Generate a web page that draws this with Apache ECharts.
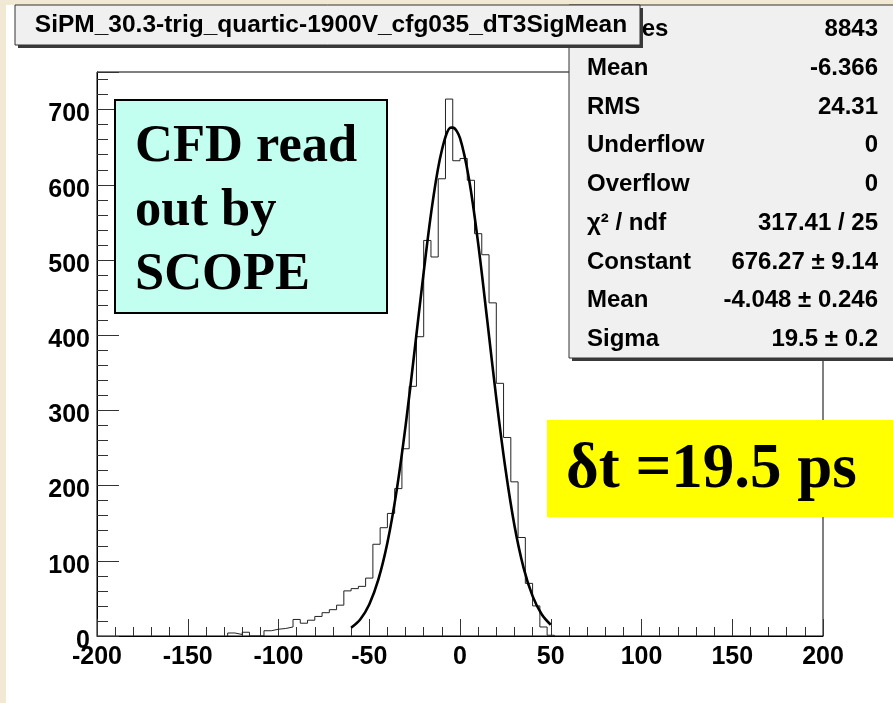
<!DOCTYPE html>
<html><head><meta charset="utf-8">
<script src="https://cdn.jsdelivr.net/npm/echarts@6/dist/echarts.min.js"></script>
<style>html,body{margin:0;padding:0;background:#fff;overflow:hidden}#c{width:893px;height:703px}</style>
</head><body><div id="c"></div>
<script>
// ---- data ----
const titleText = 'SiPM_30.3-trig_quartic-1900V_cfg035_dT3SigMean';
const binStart = -128;   // left edge of first non-empty bin
const binWidth = 4;
const counts = [4,2,5,0,0,7,9,10,12,22,17,21,26,31,35,41,60,63,66,77,122,144,163,196,249,332,398,526,504,608,714,632,635,606,535,507,443,336,264,205,131,70,40,12,1];
const fitX = [-60,-55,-50,-45,-40,-35,-30,-25,-20,-15,-10,-5,-4,0,5,10,15,20,25,30,35,40,45,50];
const fitY = [11,22,42,75,124,192,279,380,484,578,646,676,676,662,607,522,420,316,223,147,91,53,29,15];
const xTicks = [-200,-150,-100,-50,0,50,100,150,200];
const yTicks = [0,100,200,300,400,500,600,700];
const statLabels = ['Entries','Mean','RMS','Underflow','Overflow','\u03c7\u00b2 / ndf','Constant','Mean','Sigma'];
const statValues = ['8843','-6.366','24.31','0','0','317.41 / 25','676.27 \u00b1 9.14','-4.048 \u00b1 0.246','19.5 \u00b1 0.2'];
const noteLines = ['CFD read','out by','SCOPE'];
const resultText = '\u03b4t =19.5 ps';

// ---- build series ----
const histPts = [[binStart, 0]];
counts.forEach((c, i) => histPts.push([binStart + i * binWidth, c]));
const binEnd = binStart + counts.length * binWidth;
histPts.push([binEnd, counts[counts.length - 1]]);
histPts.push([binEnd, 0]);
const fitPts = fitX.map((x, i) => [x, fitY[i]]);

const SANS = '"Liberation Sans", Arial, sans-serif';
const SERIF = '"Liberation Serif", "Times New Roman", serif';
const g = [];
// beige page strips
g.push({type:'rect', z:1, shape:{x:0,y:0,width:6,height:703}, style:{fill:'#f2e9d4'}});
g.push({type:'rect', z:1, shape:{x:0,y:0,width:893,height:5}, style:{fill:'#f2e9d4'}});
// stats box
g.push({type:'rect', z:50, shape:{x:572,y:8,width:330,height:353}, style:{fill:'#3a3a3a'}});
g.push({type:'rect', z:51, shape:{x:569,y:5,width:330,height:353}, style:{fill:'#f0f0f0', stroke:'#333', lineWidth:1}});
statLabels.forEach((t, i) => {
  const y = 29.5 + i * 38.75;
  g.push({type:'text', z:52, x:587, y:y, style:{text:t, font:'bold 24px ' + SANS, fill:'#000', textAlign:'left', textVerticalAlign:'middle', verticalAlign:'middle'}});
  g.push({type:'text', z:52, x:878, y:y, style:{text:statValues[i], font:'bold 24px ' + SANS, fill:'#000', textAlign:'right', textVerticalAlign:'middle', verticalAlign:'middle'}});
});
// title box
g.push({type:'rect', z:60, shape:{x:18,y:8,width:625,height:40}, style:{fill:'#3a3a3a'}});
g.push({type:'rect', z:61, shape:{x:15,y:5,width:625,height:40}, style:{fill:'#f0f0f0', stroke:'#333', lineWidth:1}});
g.push({type:'text', z:62, x:331, y:25.5, style:{text:titleText, font:'bold 24.5px ' + SANS, fill:'#000', textAlign:'center', textVerticalAlign:'middle', verticalAlign:'middle'}});
// cyan note
g.push({type:'rect', z:70, shape:{x:115,y:100,width:272,height:213}, style:{fill:'#c2fff0', stroke:'#000', lineWidth:2}});
noteLines.forEach((t, i) => {
  g.push({type:'text', z:71, x:135, y:147 + i * 64, style:{text:t, font:'bold 52.5px ' + SERIF, fill:'#000', textAlign:'left', textVerticalAlign:'middle', verticalAlign:'middle'}});
});
// yellow result
g.push({type:'rect', z:70, shape:{x:547,y:420,width:346,height:97}, style:{fill:'#ffff00'}});
g.push({type:'text', z:71, x:566, y:471, style:{text:resultText, font:'bold 63px ' + SERIF, fill:'#000', textAlign:'left', textVerticalAlign:'middle', verticalAlign:'middle'}});

const labelStyle = {color:'#000', fontFamily:SANS, fontWeight:'bold', fontSize:25};
const option = {
  animation: false,
  backgroundColor: '#ffffff',
  grid: {left:97, top:72, width:726, height:564, show:true, borderColor:'#000', borderWidth:1, backgroundColor:'#fff', containLabel:false, outerBoundsMode:'none'},
  xAxis: {
    type:'value', min:xTicks[0], max:xTicks[xTicks.length-1], interval:50,
    axisLine:{show:true, onZero:false, lineStyle:{color:'#000', width:1}},
    axisTick:{show:true, inside:true, length:17, lineStyle:{color:'#333', width:1}},
    minorTick:{show:true, splitNumber:5, length:9, lineStyle:{color:'#333', width:1}},
    splitLine:{show:false}, minorSplitLine:{show:false},
    axisLabel:Object.assign({margin:9, formatter:v => (xTicks.indexOf(v) >= 0 ? String(v) : '')}, labelStyle)
  },
  yAxis: [
    {type:'value', min:0, max:750, interval:100, position:'left', offset:0,
     axisLine:{show:true, onZero:false, lineStyle:{color:'#000', width:1}},
     axisTick:{show:true, inside:true, length:22, lineStyle:{color:'#333', width:1}},
     splitLine:{show:false},
     axisLabel:Object.assign({margin:7, verticalAlign:'top', lineHeight:10, formatter:v => (yTicks.indexOf(v) >= 0 ? String(v) : '')}, labelStyle)},
    {type:'value', min:0, max:750, interval:20, position:'left', offset:0,
     axisLine:{show:false, onZero:false}, axisTick:{show:true, inside:true, length:11, lineStyle:{color:'#333', width:1}},
     splitLine:{show:false}, axisLabel:{show:false}}
  ],
  series: [
    {type:'line', step:'end', data:histPts, symbol:'none', showSymbol:false, lineStyle:{color:'#222', width:1}, z:3, silent:true},
    {type:'line', smooth:0.35, data:fitPts, symbol:'none', showSymbol:false, lineStyle:{color:'#000', width:2.6}, z:4, silent:true}
  ],
  graphic: g
};
const chart = echarts.init(document.getElementById('c'));
chart.setOption(option);
</script>
</body></html>
